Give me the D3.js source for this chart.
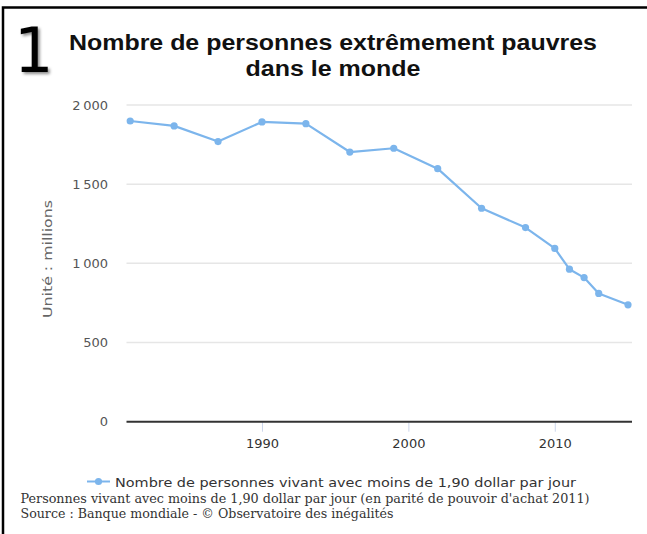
<!DOCTYPE html>
<html lang="fr">

<head>
  <meta charset="UTF-8">
  <title>Nombre de personnes extrêmement pauvres dans le monde</title>
  <script src="https://d3js.org/d3.v7.min.js"></script>
  <style>
    body {
      margin: 0;
      background: white;
    }

    svg {
      display: block;
    }

    .tick-label {
      font-family: "DejaVu Sans", sans-serif;
      font-size: 13px;
    }
  </style>
</head>

<body>
  <div id="chart"></div>

  <script>
    const years = [1981, 1984, 1987, 1990, 1993, 1996, 1999, 2002, 2005, 2008, 2010, 2011, 2012, 2013, 2015]
    const values = [1899, 1868, 1769, 1893, 1882, 1703, 1727, 1598, 1348, 1226, 1094, 963, 910, 810, 738]
    const yTicks = [0, 500, 1000, 1500, 2000]
    const xTicks = [1990, 2000, 2010]

    const titleLines = ['Nombre de personnes extrêmement pauvres', 'dans le monde']
    const seriesName = 'Nombre de personnes vivant avec moins de 1,90 dollar par jour'
    const footerLines = [
      "Personnes vivant avec moins de 1,90 dollar par jour (en parité de pouvoir d'achat 2011)",
      'Source : Banque mondiale - © Observatoire des inégalités'
    ]

    const width = 647
    const height = 534
    const lineColor = '#7cb5ec'

    const svg = d3.select('#chart')
      .append('svg')
      .attr('width', width)
      .attr('height', height)

    const defs = svg.append('defs')
    const shadow = defs.append('filter')
      .attr('id', 'shadow')
      .attr('x', '-30%').attr('y', '-30%')
      .attr('width', '160%').attr('height', '160%')
    shadow.append('feDropShadow')
      .attr('dx', 2).attr('dy', 2)
      .attr('stdDeviation', 1.5)
      .attr('flood-color', '#000')
      .attr('flood-opacity', 0.45)

    // frame (cropped on the right / bottom)
    svg.append('path')
      .attr('d', `M3,${height} V7.5 H${width}`)
      .attr('fill', 'none')
      .attr('stroke', '#000')
      .attr('stroke-width', 2.5)

    svg.append('text')
      .attr('x', 14)
      .attr('y', 72)
      .attr('font-family', 'DejaVu Sans, sans-serif')
      .attr('font-size', 62)
      .attr('fill', '#000')
      .attr('filter', 'url(#shadow)')
      .text('1')

    svg.selectAll('.title')
      .data(titleLines)
      .enter()
      .append('text')
      .attr('class', 'title')
      .attr('x', 333)
      .attr('y', (_, i) => 49.5 + i * 26.5)
      .attr('text-anchor', 'middle')
      .attr('font-family', 'Liberation Sans, Arial, sans-serif')
      .attr('font-weight', 'bold')
      .attr('font-size', 22)
      .attr('fill', '#111')
      .attr('textLength', (_, i) => [528, 175][i])
      .attr('lengthAdjust', 'spacingAndGlyphs')
      .text(d => d)

    const x = d3.scaleLinear()
      .domain([1981, 2015])
      .range([130.2, 628])

    const y = d3.scaleLinear()
      .domain([0, 2000])
      .range([421.7, 105])

    const plotLeft = 126.5
    const plotRight = 632

    // grid
    svg.append('g')
      .selectAll('line')
      .data(yTicks.filter(d => d > 0))
      .enter()
      .append('line')
      .attr('x1', plotLeft)
      .attr('x2', plotRight)
      .attr('y1', d => y(d))
      .attr('y2', d => y(d))
      .attr('stroke', '#e6e6e6')
      .attr('stroke-width', 1.5)

    // y labels
    const yAxis = d3.axisLeft(y)
      .tickValues(yTicks)
      .tickSize(0)
      .tickPadding(0)
      .tickFormat(d => d3.format(',')(d).replace(',', '\u2009'))

    svg.append('g')
      .attr('transform', 'translate(108,0)')
      .call(yAxis)
      .call(g => g.select('.domain').remove())
      .call(g => g.selectAll('text')
        .attr('class', 'tick-label')
        .attr('fill', '#555')
        .attr('font-family', null)
        .attr('font-size', null))

    // x axis
    const xAxis = d3.axisBottom(x)
      .tickValues(xTicks)
      .tickSize(10)
      .tickPadding(7)
      .tickFormat(d3.format('d'))

    svg.append('g')
      .attr('transform', `translate(0,${y(0)})`)
      .call(xAxis)
      .call(g => g.select('.domain').remove())
      .call(g => g.selectAll('.tick line').attr('stroke', '#ccd6eb'))
      .call(g => g.selectAll('text')
        .attr('class', 'tick-label')
        .attr('fill', '#333')
        .attr('font-family', null)
        .attr('font-size', null))

    svg.append('line')
      .attr('x1', plotLeft)
      .attr('x2', plotRight)
      .attr('y1', y(0))
      .attr('y2', y(0))
      .attr('stroke', '#333')
      .attr('stroke-width', 2)

    svg.append('text')
      .attr('transform', `translate(52,259) rotate(-90)`)
      .attr('text-anchor', 'middle')
      .attr('font-family', 'DejaVu Sans, sans-serif')
      .attr('font-size', 13)
      .attr('fill', '#666')
      .attr('textLength', 118)
      .attr('lengthAdjust', 'spacingAndGlyphs')
      .text('Unité : millions')

    // series
    const data = years.map((yr, i) => ({ year: yr, value: values[i] }))

    const line = d3.line()
      .x(d => x(d.year))
      .y(d => y(d.value))

    svg.append('path')
      .datum(data)
      .attr('d', line)
      .attr('fill', 'none')
      .attr('stroke', lineColor)
      .attr('stroke-width', 2.2)
      .attr('stroke-linejoin', 'round')

    svg.selectAll('.dot')
      .data(data)
      .enter()
      .append('circle')
      .attr('class', 'dot')
      .attr('cx', d => x(d.year))
      .attr('cy', d => y(d.value))
      .attr('r', 3.6)
      .attr('fill', lineColor)

    // legend
    const legend = svg.append('g')
      .attr('transform', 'translate(87,481.5)')

    legend.append('line')
      .attr('x1', 0)
      .attr('x2', 23)
      .attr('stroke', lineColor)
      .attr('stroke-width', 2)

    legend.append('circle')
      .attr('cx', 11.5)
      .attr('r', 3.6)
      .attr('fill', lineColor)

    legend.append('text')
      .attr('x', 28)
      .attr('y', 5)
      .attr('font-family', 'DejaVu Sans, sans-serif')
      .attr('font-size', 13)
      .attr('fill', '#333')
      .attr('textLength', 461)
      .attr('lengthAdjust', 'spacingAndGlyphs')
      .text(seriesName)

    // footer
    svg.selectAll('.footer')
      .data(footerLines)
      .enter()
      .append('text')
      .attr('class', 'footer')
      .attr('x', 20.5)
      .attr('y', (_, i) => 503 + i * 15)
      .attr('font-family', 'DejaVu Serif, serif')
      .attr('font-size', 12)
      .attr('fill', '#333')
      .attr('textLength', (_, i) => [569, 373][i])
      .attr('lengthAdjust', 'spacingAndGlyphs')
      .text(d => d)
  </script>
</body>

</html>
